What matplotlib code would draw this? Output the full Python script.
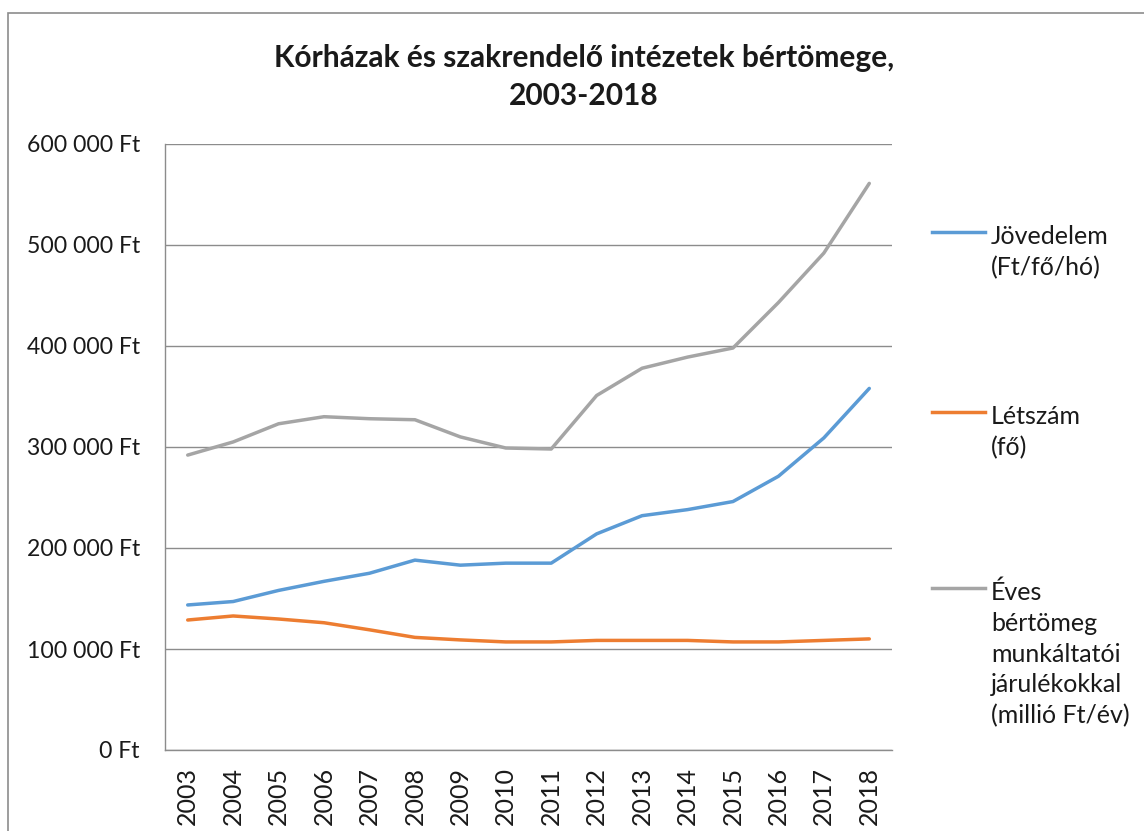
import matplotlib
matplotlib.use("Agg")
import matplotlib.pyplot as plt
from matplotlib.ticker import FuncFormatter, MultipleLocator
from matplotlib.lines import Line2D
from matplotlib.patches import Rectangle

plt.rcParams['font.family'] = ['Lato', 'DejaVu Sans']

years = ['2003', '2004', '2005', '2006', '2007', '2008', '2009', '2010',
         '2011', '2012', '2013', '2014', '2015', '2016', '2017', '2018']
jovedelem = [143600, 147000, 158000, 167000, 175000, 188000, 183000, 185000,
             185000, 214000, 232000, 238000, 246000, 271000, 309000, 358000]
letszam = [128700, 132700, 129700, 126000, 119000, 111500, 109000, 107000,
           107000, 108500, 108500, 108500, 107000, 107000, 108500, 110000]
bertomeg = [292000, 305000, 323000, 330000, 328000, 327000, 310000, 299000,
            298000, 351000, 378000, 389000, 398000, 443000, 492000, 561000]

series_labels = ['Jövedelem\n(Ft/fő/hó)', 'Létszám\n(fő)',
                 'Éves\nbértömeg\nmunkáltatói\njárulékokkal\n(millió Ft/év)']
series_colors = ['#5B9BD5', '#ED7D31', '#A5A5A5']
title = 'Kórházak és szakrendelő intézetek bértömege,\n2003-2018'

W, H = 1144, 831
fig = plt.figure(figsize=(W / 100, H / 100), dpi=100)
ax = fig.add_axes([165 / W, 1 - 750 / H, (892 - 165) / W, (750 - 144) / H])

x = list(range(len(years)))
data = [jovedelem, letszam, bertomeg]
for vals, col in zip(data, series_colors):
    ax.plot(x, vals, color=col, lw=2.5, solid_capstyle='round', solid_joinstyle='round', zorder=3)

ax.set_xlim(-0.5, len(years) - 0.5)
ax.set_ylim(0, 600000)
ax.yaxis.set_major_locator(MultipleLocator(100000))
ax.yaxis.set_major_formatter(FuncFormatter(lambda v, p: f"{int(v):,}".replace(',', ' ') + ' Ft'))
ax.set_xticks(x)
ax.set_xticklabels(years, rotation=90, fontsize=18)
ax.grid(axis='y', color='#8c8c8c', lw=1)
ax.set_axisbelow(True)
for s in ['top', 'right']:
    ax.spines[s].set_visible(False)
for s in ['left', 'bottom']:
    ax.spines[s].set_color('#8c8c8c')
    ax.spines[s].set_linewidth(1)
ax.tick_params(axis='y', length=0, pad=18, labelsize=16.6, labelcolor='#1a1a1a')
ax.tick_params(axis='x', length=0, pad=12, labelcolor='#1a1a1a')

# title
fig.text(584 / W, 1 - 44 / H, title, ha='center', va='top', fontsize=21.5,
         fontweight='bold', color='#1a1a1a', linespacing=1.42)

# legend drawn manually
leg_y = [232, 412, 588]
for lab, col, yy in zip(series_labels, series_colors, leg_y):
    fig.add_artist(Line2D([932 / W, 985 / W], [1 - yy / H, 1 - yy / H], color=col, lw=2.5,
                          transform=fig.transFigure))
    fig.text(991 / W, 1 - (yy - 7) / H, lab, ha='left', va='top', fontsize=18,
             color='#1a1a1a', linespacing=1.4)

# outer frame
fig.add_artist(Rectangle((8 / W, -0.05), 1.1, 1 - 13 / H + 0.05, transform=fig.transFigure,
                         fill=False, edgecolor='#8c8c8c', lw=1.2))

fig.savefig('out.png', dpi=100)
